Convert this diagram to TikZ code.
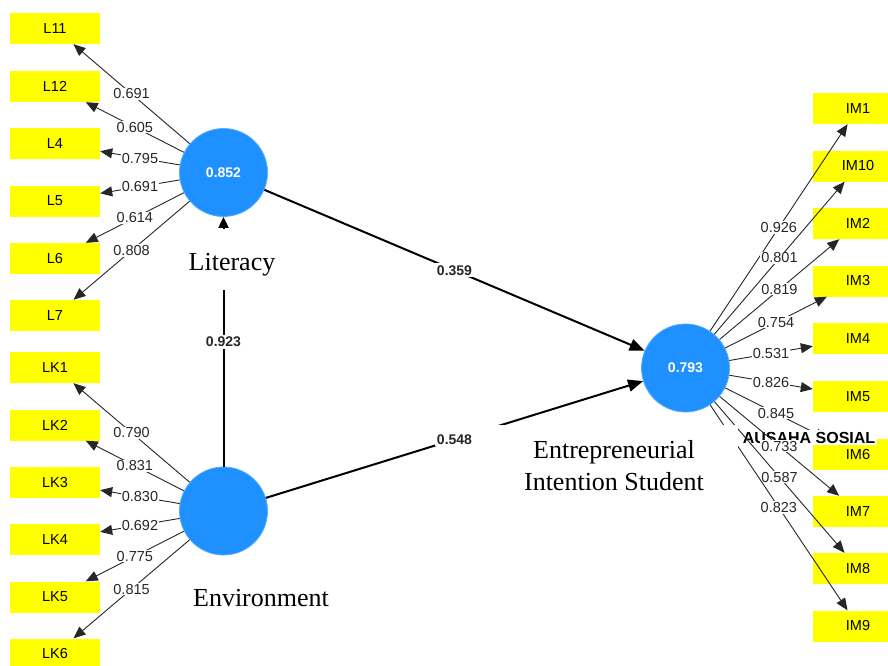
\documentclass[tikz,border=0pt]{standalone}
\usepackage{fontspec}
\setmainfont{Liberation Serif}
\setsansfont{Liberation Sans}
\usetikzlibrary{arrows.meta}
\definecolor{lvblue}{RGB}{30,144,255}
\definecolor{indyellow}{RGB}{255,255,0}
\begin{document}
\begin{tikzpicture}[x=1pt,y=-1pt,
  ind/.style={fill=indyellow, minimum width=90pt, minimum height=31pt, inner sep=0pt,
    font=\sffamily\fontsize{14.5}{14.5}\selectfont},
  lv/.style={circle, fill=lvblue, draw=lvblue!75!white, line width=0.8pt, minimum size=88pt, inner sep=0pt,
    font=\sffamily\bfseries\fontsize{14}{14}\selectfont, text=white},
  load/.style={draw=black!85, line width=0.9pt, -{Triangle[length=12pt,width=10pt]}},
  strc/.style={draw=black, line width=2pt, -{Triangle[length=15pt,width=12pt]}},
  lbl/.style={fill=white, inner sep=1pt, font=\sffamily\fontsize{14.5}{14.5}\selectfont, text=black!85},
  plbl/.style={fill=white, inner sep=2pt, font=\sffamily\bfseries\fontsize{14}{14}\selectfont, text=black!85},
  lvname/.style={font=\fontsize{26}{32}\selectfont, align=center, inner sep=0pt},
  grpname/.style={fill=white, inner sep=2pt, font=\sffamily\bfseries\fontsize{16}{16}\selectfont}
]
\useasboundingbox[fill=white] (0,0) rectangle (888,666);

% latent variables
\node[lv] (lit) at (223.5,172.5) {0.852};
\node[lv] (env) at (223.5,511) {};
\node[lv] (ent) at (685.5,368) {0.793};

% indicators of Literacy
\node[ind] (L11) at (55,28.5) {L11};
\node[ind] (L12) at (55,86.5) {L12};
\node[ind] (L4) at (55,143.5) {L4};
\node[ind] (L5) at (55,201) {L5};
\node[ind] (L6) at (55,258.5) {L6};
\node[ind] (L7) at (55,315.5) {L7};
% indicators of Environment
\node[ind] (LK1) at (55,367.5) {LK1};
\node[ind] (LK2) at (55,425) {LK2};
\node[ind] (LK3) at (55,482.5) {LK3};
\node[ind] (LK4) at (55,539.5) {LK4};
\node[ind] (LK5) at (55,597) {LK5};
\node[ind] (LK6) at (55,654) {LK6};
% indicators of Entrepreneurial Intention
\node[ind] (IM1) at (858,108.5) {IM1};
\node[ind] (IM10) at (858,166) {IM10};
\node[ind] (IM2) at (858,223.5) {IM2};
\node[ind] (IM3) at (858,281) {IM3};
\node[ind] (IM4) at (858,338.5) {IM4};
\node[ind] (IM5) at (858,396.5) {IM5};
\node[ind] (IM6) at (858,454.5) {IM6};
\node[ind] (IM7) at (858,511.5) {IM7};
\node[ind] (IM8) at (858,568.5) {IM8};
\node[ind] (IM9) at (858,626) {IM9};

% outer loadings: Literacy
\draw[load] (lit) -- node[lbl]{0.691} (L11);
\draw[load] (lit) -- node[lbl]{0.605} (L12);
\draw[load] (lit) -- node[lbl]{0.795} (L4);
\draw[load] (lit) -- node[lbl]{0.691} (L5);
\draw[load] (lit) -- node[lbl]{0.614} (L6);
\draw[load] (lit) -- node[lbl]{0.808} (L7);
% outer loadings: Environment
\draw[load] (env) -- node[lbl]{0.790} (LK1);
\draw[load] (env) -- node[lbl]{0.831} (LK2);
\draw[load] (env) -- node[lbl]{0.830} (LK3);
\draw[load] (env) -- node[lbl]{0.692} (LK4);
\draw[load] (env) -- node[lbl]{0.775} (LK5);
\draw[load] (env) -- node[lbl]{0.815} (LK6);

% structural paths
\draw[strc] (lit) -- node[plbl]{0.359} (ent);
\draw[strc] (env) -- node[plbl]{0.548} (ent);
\draw[strc, -{Triangle[length=11pt,width=10pt]}] (env) -- node[plbl]{0.923} (lit);

% outer loadings: Entrepreneurial Intention
\draw[load] (ent) -- node[lbl]{0.926} (IM1);
\draw[load] (ent) -- node[lbl]{0.801} (IM10);
\draw[load] (ent) -- node[lbl]{0.819} (IM2);
\draw[load] (ent) -- node[lbl]{0.754} (IM3);
\draw[load] (ent) -- node[lbl]{0.531} (IM4);
\draw[load] (ent) -- node[lbl]{0.826} (IM5);
\draw[load] (ent) -- node[lbl]{0.845} (IM6);

\node[grpname] (grp) at (809,437.5) {AUSAHA SOSIAL};

\draw[load] (ent) -- node[lbl]{0.733} (IM7);
\draw[load] (ent) -- node[lbl]{0.587} (IM8);
\draw[load] (ent) -- node[lbl]{0.823} (IM9);

% latent variable names
\node[lvname, fill=white, minimum width=266pt, minimum height=83pt] (entname) at (605,466)
  {\hspace*{18pt}Entrepreneurial\\\hspace*{18pt}Intention Student};
\node[lvname, fill=white, minimum width=100pt, minimum height=61pt, text height=28pt, text depth=6pt]
  (litname) at (232,259.5) {Literacy};
\node[lvname] (envname) at (261,598) {Environment};
\end{tikzpicture}
\end{document}
